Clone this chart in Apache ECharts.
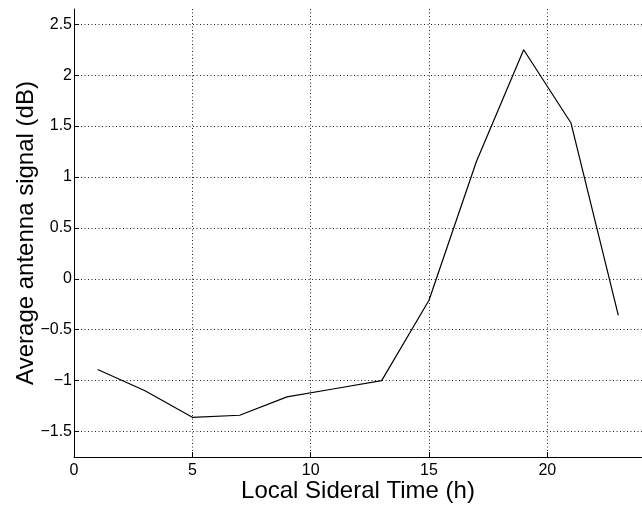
<!DOCTYPE html>
<html>
<head>
<meta charset="utf-8">
<script src="https://cdn.jsdelivr.net/npm/echarts@6/dist/echarts.min.js"></script>
<style>
html,body{margin:0;padding:0;background:#fff;}
#chart{width:642px;height:508px;}
</style>
</head>
<body>
<div id="chart"></div>
<script>
var lstHours = [1, 3, 5, 7, 9, 11, 13, 15, 17, 19, 21, 23];
var signalDb = [-0.89, -1.10, -1.36, -1.34, -1.16, -1.08, -1.00, -0.21, 1.15, 2.25, 1.53, -0.36];
var xTicks = [0, 5, 10, 15, 20];
var yTicks = [-1.5, -1, -0.5, 0, 0.5, 1, 1.5, 2, 2.5];

var chart = echarts.init(document.getElementById('chart'), null, {renderer: 'canvas'});
var font = 'Liberation Sans, Arial, Helvetica, sans-serif';
var gridLine = {show: true, lineStyle: {color: '#222', width: 1, type: [1, 2.5]}};
chart.setOption({
  animation: false,
  backgroundColor: '#fff',
  grid: {left: 74, right: 0, top: 9, bottom: 51, containLabel: false, outerBoundsMode: 'none'},
  xAxis: {
    type: 'value', min: 0, max: 24,
    name: 'Local Sideral Time (h)', nameLocation: 'middle', nameGap: 22, nameMoveOverlap: false,
    nameTextStyle: {fontFamily: font, fontSize: 24, color: '#000'},
    axisLine: {show: true, onZero: false, lineStyle: {color: '#000', width: 1}},
    axisTick: {show: true, inside: true, length: 5, customValues: xTicks, lineStyle: {color: '#000'}},
    axisLabel: {show: true, customValues: xTicks, margin: 6, fontFamily: font, fontSize: 16, color: '#000'},
    splitLine: gridLine
  },
  yAxis: {
    type: 'value', min: -1.75, max: 2.65,
    name: 'Average antenna signal (dB)', nameLocation: 'middle', nameGap: 36, nameMoveOverlap: false,
    nameTextStyle: {fontFamily: font, fontSize: 24, color: '#000'},
    axisLine: {show: true, onZero: false, lineStyle: {color: '#000', width: 1}},
    axisTick: {show: true, inside: true, length: 5, customValues: yTicks, lineStyle: {color: '#000'}},
    axisLabel: {show: true, customValues: yTicks, margin: 2, fontFamily: font, fontSize: 16, color: '#000',
      formatter: function (v) { return String(v).replace('-', '\u2212'); }},
    splitLine: gridLine
  },
  series: [{
    type: 'line',
    data: lstHours.map(function (x, i) { return [x, signalDb[i]]; }),
    symbol: 'none',
    lineStyle: {color: '#000', width: 1.2},
    clip: false
  }]
});
</script>
</body>
</html>
